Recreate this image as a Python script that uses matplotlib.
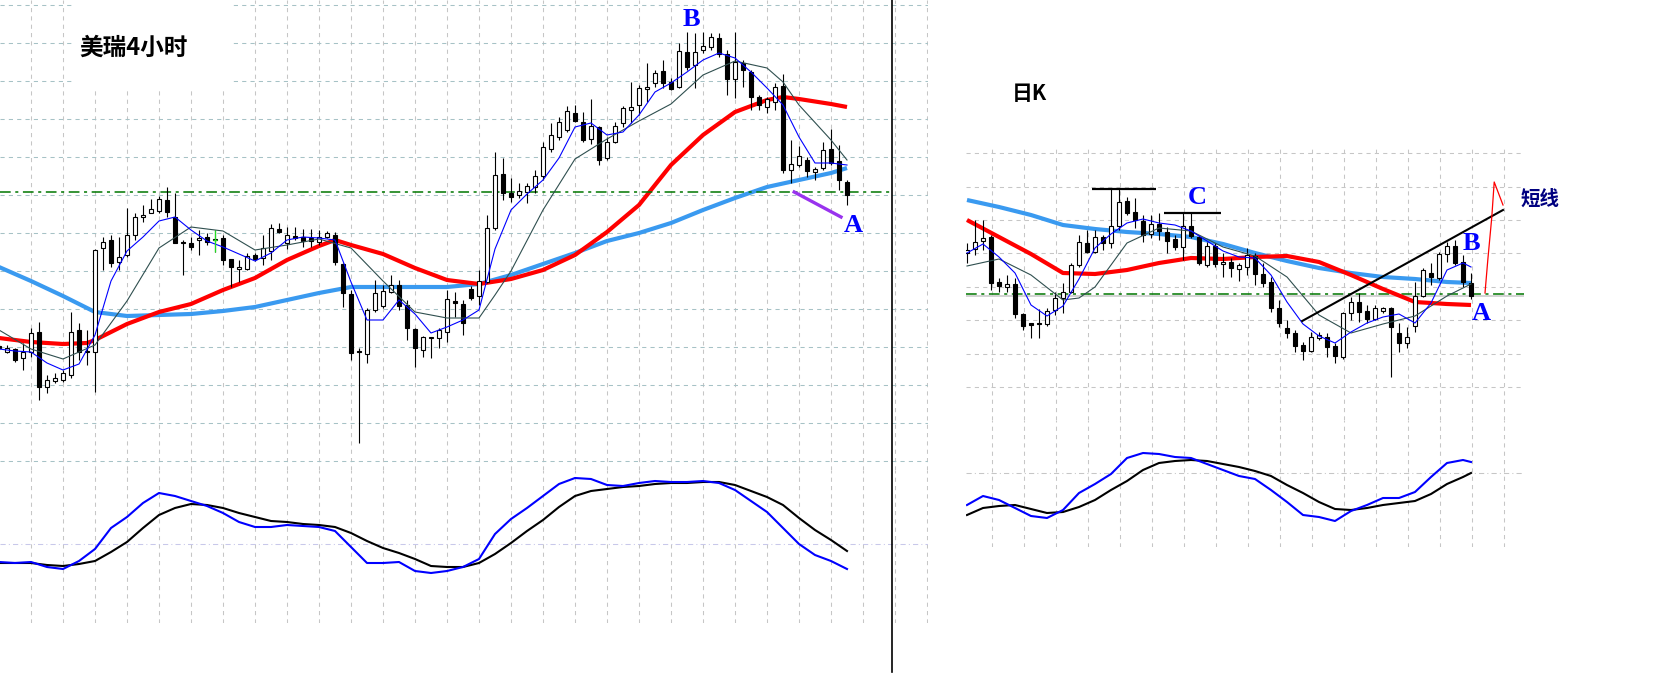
"""USD/CHF 4-hour and daily candlestick charts with moving averages and oscillator."""
import numpy as np
import matplotlib
matplotlib.use("Agg")
import matplotlib.pyplot as plt
from matplotlib.lines import Line2D
from matplotlib.patches import Rectangle

# ---- 4-hour chart (left) ----
left_open = [154, 148, 151, 142, 148, 168, 113, 119, 120, 125, 170, 149, 148, 252, 260, 238, 245, 265, 283, 287,
             289, 300, 283, 258, 257, 260, 263, 260, 262, 241, 231, 231, 245, 242, 249, 271, 257, 264, 263, 262,
             258, 263, 265, 236, 206, 149, 146, 190, 194, 208, 215, 195, 171, 150, 162, 162, 168, 199, 196, 211,
             204, 218, 272, 326, 307, 305, 308, 313, 324, 351, 363, 370, 387, 378, 361, 373, 342, 358, 377, 390,
             395, 411, 417, 429, 418, 413, 448, 435, 450, 453, 462, 446, 421, 437, 428, 403, 393, 398, 414, 330,
             335, 340, 328, 332, 351, 339, 318]
left_high = [156, 155, 152, 157, 172, 178, 125, 127, 130, 188, 177, 170, 251, 263, 265, 263, 292, 287, 295, 301,
             304, 313, 307, 260, 263, 270, 267, 270, 265, 241, 240, 247, 247, 265, 276, 277, 273, 273, 271, 271,
             270, 269, 268, 237, 210, 152, 192, 220, 215, 225, 220, 200, 172, 164, 162, 172, 210, 208, 200, 214,
             230, 285, 348, 342, 322, 317, 317, 330, 358, 377, 383, 394, 395, 388, 401, 374, 363, 378, 394, 418,
             415, 437, 430, 440, 422, 457, 468, 467, 468, 467, 467, 450, 468, 440, 430, 405, 403, 417, 426, 360,
             354, 343, 333, 358, 371, 355, 320]
left_low = [150, 147, 138, 130, 143, 100, 107, 117, 118, 122, 140, 135, 108, 230, 233, 230, 243, 260, 278, 287,
            287, 283, 257, 225, 250, 245, 255, 248, 235, 213, 218, 230, 239, 235, 240, 267, 251, 260, 253, 253,
            255, 262, 235, 193, 140, 57, 137, 188, 192, 207, 190, 160, 133, 143, 142, 152, 158, 183, 165, 200,
            195, 217, 270, 300, 298, 302, 297, 307, 320, 348, 360, 368, 378, 358, 356, 335, 340, 357, 373, 377,
            385, 398, 413, 412, 410, 412, 430, 412, 447, 450, 443, 405, 402, 413, 390, 390, 387, 390, 327, 317,
            333, 323, 320, 330, 335, 310, 295]
left_close = [152, 152, 140, 148, 167, 113, 120, 122, 127, 168, 148, 148, 250, 258, 237, 243, 265, 283, 285, 291,
              301, 288, 257, 257, 253, 262, 258, 260, 240, 233, 233, 244, 241, 252, 272, 268, 265, 262, 259, 259,
              263, 267, 238, 207, 147, 148, 190, 207, 209, 215, 194, 172, 152, 163, 162, 170, 201, 197, 177, 202,
              219, 272, 325, 307, 303, 309, 314, 324, 353, 365, 378, 389, 379, 360, 374, 340, 358, 374, 392, 393,
              412, 413, 427, 417, 411, 449, 433, 448, 454, 463, 446, 421, 438, 430, 403, 395, 401, 413, 330, 336,
              344, 329, 331, 350, 337, 320, 305]
left_green_bar = 27

left_fast_idx = list(range(0, 107, 2))
left_fast = [151, 149, 148, 137, 130, 136, 165, 219, 249, 263, 279, 283, 270, 259, 253, 246, 239, 247, 260, 263,
             262, 260, 218, 180, 180, 200, 186, 167, 173, 180, 190, 251, 290, 306, 320, 342, 373, 377, 365, 368,
             385, 408, 417, 428, 440, 447, 442, 428, 412, 395, 363, 337, 337, 335]
left_mid_idx = [0, 4, 8, 12, 16, 20, 24, 28, 32, 36, 40, 44, 48, 52, 56, 60, 62, 64, 68, 72, 76, 80, 84, 88, 92,
                96, 98, 100, 104, 106]
left_mid = [170, 151, 141, 155, 199, 252, 273, 269, 250, 255, 261, 252, 219, 188, 182, 182, 205, 229, 290, 341,
            361, 379, 396, 425, 439, 432, 418, 395, 360, 340]
left_red_idx = [0, 4, 8, 11, 12, 16, 20, 24, 28, 32, 36, 40, 42, 44, 48, 52, 56, 60, 64, 68, 72, 76, 80, 84, 88,
                92, 96, 98, 100, 104, 106]
left_red = [162, 158, 156, 157, 160, 176, 188, 196, 210, 222, 240, 254, 260, 255, 246, 232, 220, 216, 221, 230,
            245, 268, 295, 335, 365, 388, 400, 403, 401, 396, 393]
left_slow_idx = [0, 4, 8, 12, 16, 20, 24, 28, 32, 36, 40, 44, 48, 52, 56, 60, 64, 68, 72, 76, 80, 84, 88, 92, 96,
                 100, 104, 106]
left_slow = [233, 219, 204, 188, 184, 185, 186, 189, 193, 200, 207, 213, 213, 213, 213, 216, 225, 236, 247, 259,
             267, 277, 290, 302, 313, 320, 327, 332]

left_osc_idx = list(range(0, 107, 2))
left_osc_fast = [38, 37, 38, 33, 31, 39, 51, 72, 83, 97, 107, 104, 99, 94, 87, 78, 73, 73, 75, 74,
                 73, 69, 53, 37, 37, 38, 29, 27, 29, 33, 41, 66, 81, 92, 104, 116, 122, 121, 115, 114,
                 117, 119, 118, 118, 119, 117, 110, 99, 88, 72, 56, 45, 39, 31]
left_osc_slow = [37, 37, 37, 35, 34, 36, 39, 48, 58, 72, 85, 92, 96, 95, 92, 87, 83, 79, 78, 76,
                 75, 73, 67, 59, 52, 47, 41, 34, 33, 33, 37, 46, 57, 69, 80, 93, 104, 109, 111, 113,
                 114, 116, 117, 117, 118, 118, 115, 109, 103, 95, 82, 70, 60, 49]

left_level = 308
left_swing_x = [99.4, 105.25]
left_swing_y = [308, 283]

# ---- daily chart (right) ----
right_open = [247, 251, 259, 263, 218, 213, 216, 186, 177, 177, 176, 190, 202, 208, 235, 257, 248, 263, 257, 274,
              299, 288, 279, 266, 276, 268, 261, 253, 274, 263, 235, 254, 236, 238, 231, 233, 244, 226, 218, 192,
              172, 167, 155, 149, 162, 163, 154, 143, 187, 198, 189, 181, 189, 192, 167, 157, 174, 204, 227, 222,
              246, 254, 238, 217]
right_high = [257, 280, 280, 265, 222, 225, 222, 187, 177, 191, 192, 208, 217, 237, 265, 270, 270, 265, 311, 311,
              303, 302, 285, 285, 287, 273, 265, 287, 287, 265, 258, 257, 247, 242, 237, 252, 247, 237, 223, 200,
              180, 170, 158, 168, 168, 167, 157, 188, 203, 207, 195, 195, 193, 193, 177, 173, 218, 232, 237, 248,
              258, 260, 245, 227]
right_low = [237, 245, 250, 210, 208, 208, 182, 170, 162, 162, 174, 185, 187, 207, 233, 247, 247, 250, 252, 270,
             285, 272, 258, 262, 260, 247, 250, 240, 262, 235, 233, 233, 223, 223, 219, 225, 215, 213, 188, 173,
             162, 148, 140, 148, 160, 143, 137, 141, 180, 178, 177, 180, 187, 123, 148, 152, 168, 203, 215, 220,
             238, 235, 213, 201]
right_close = [250, 258, 262, 217, 214, 216, 186, 174, 175, 176, 189, 202, 208, 235, 258, 248, 263, 257, 274, 298,
               287, 280, 265, 276, 269, 259, 253, 274, 264, 237, 254, 236, 238, 232, 235, 245, 226, 217, 192, 177,
               167, 154, 149, 163, 165, 153, 144, 187, 198, 188, 181, 192, 192, 173, 157, 163, 204, 230, 223, 246,
               254, 237, 218, 204]

right_fast_idx = list(range(0, 63, 2)) + [63]
right_fast = [247, 256, 243, 227, 195, 184, 194, 221, 252, 266, 277, 281, 277, 275, 269, 259, 249, 243, 242, 225,
              198, 176, 164, 157, 168, 177, 183, 186, 177, 197, 230, 237, 233]
right_mid_idx = [0, 4, 8, 12, 14, 16, 20, 24, 28, 32, 36, 40, 44, 48, 52, 56, 60, 63]
right_mid = [234, 241, 225, 200, 202, 213, 257, 272, 269, 253, 244, 223, 185, 167, 176, 184, 204, 216]
right_red_idx = [0, 4, 8, 12, 16, 20, 24, 28, 32, 36, 40, 44, 48, 52, 56, 60, 63]
right_red = [280, 263, 246, 227, 226, 230, 237, 242, 241, 243, 244, 238, 225, 211, 198, 196, 195]
right_slow = [300, 293, 285, 275, 271, 268, 266, 263, 256, 247, 239, 232, 227, 223, 221, 218, 217]

right_osc_idx = list(range(0, 63, 2)) + [63]
right_osc_fast = [45, 54, 50, 42, 34, 32, 40, 57, 66, 76, 92, 97, 96, 93, 92, 86, 80, 74, 71, 60,
                  48, 35, 33, 29, 39, 45, 52, 52, 58, 73, 87, 90, 88]
right_osc_slow = [35, 42, 44, 45, 41, 37, 38, 43, 50, 60, 69, 80, 87, 89, 90, 89, 86, 83, 79, 74,
                  65, 57, 48, 41, 40, 42, 45, 47, 49, 56, 66, 73, 77]

right_level = 206
top_band_x, top_band_y = [15.6, 23.6], 311
c_band_x, c_band_y = [24.6, 31.75], 287
trend_x, trend_y = [41.9, 67.0], [179, 290]
zigzag_x = [64.75, 65.1, 65.6, 65.9, 67.0]
zigzag_y = [207, 240, 283, 318, 295]

W, H = 1657, 685
CJK = ["Noto Sans CJK SC", "DejaVu Sans"]


def box(x0, y0, x1, y1):
    return [x0 / W, 1 - y1 / H, (x1 - x0) / W, (y1 - y0) / H]


def setup(ax, xlim, ylim, xticks, yticks, hcolor, hstyle):
    ax.set_xlim(*xlim)
    ax.set_ylim(*ylim)
    ax.set_xticks(xticks)
    ax.set_yticks(yticks)
    ax.tick_params(length=0, labelbottom=False, labelleft=False)
    for s in ax.spines.values():
        s.set_visible(False)
    ax.patch.set_alpha(0)
    ax.set_axisbelow(True)
    ax.grid(axis="x", color="#c6c6c6", linestyle=(0, (4, 4)), linewidth=0.75)
    ax.grid(axis="y", color=hcolor, linestyle=hstyle, linewidth=0.75)


def candles(ax, o, h, l, c, width=0.6):
    o, h, l, c = (np.asarray(v, float) for v in (o, h, l, c))
    x = np.arange(len(o))
    up = c >= o
    bottom = np.minimum(o, c)
    height = np.maximum(np.abs(c - o), 1.2)
    ax.vlines(x, l, h, color="black", lw=0.8, zorder=3)
    ax.bar(x[up], height[up], width, bottom[up], color="white", edgecolor="black", lw=0.8, zorder=4)
    ax.bar(x[~up], height[~up], width, bottom[~up], color="black", edgecolor="black", lw=0.8, zorder=4)


def averages(ax, fast, mid, red, slow):
    ax.plot(*slow, color="#3a9af0", lw=3.0, zorder=2, solid_capstyle="butt")
    ax.plot(*red, color="#ff0000", lw=3.0, zorder=2, solid_capstyle="butt")
    ax.plot(*mid, color="#2f4f4f", lw=0.8, zorder=5)
    ax.plot(*fast, color="#0000ff", lw=0.8, zorder=5)


fig = plt.figure(figsize=(W / 100, H / 100), dpi=100, facecolor="white")
letter = dict(color="#0000ff", fontsize=19, fontweight="bold", family="Liberation Serif",
              ha="center", va="center")

# left price window
ax1 = fig.add_axes(box(0, 0, 928, 470))
setup(ax1, (0.125, 116.125), (30, 500), np.arange(4, 117, 4), np.arange(39, 500, 38),
      "#a6c2c6", (0, (4, 4)))
candles(ax1, left_open, left_high, left_low, left_close)
g = left_green_bar
ax1.vlines(g, left_low[g], left_high[g], color="#22dd22", lw=0.9, zorder=6)
ax1.hlines(left_close[g], g - 0.3, g + 0.3, color="#22dd22", lw=0.9, zorder=6)
averages(ax1, (left_fast_idx, left_fast), (left_mid_idx, left_mid),
         (left_red_idx, left_red), (left_slow_idx, left_slow))
ax1.hlines(left_level, 0.125, 111.4, color="#007700", lw=1.1, linestyle=(0, (7, 3, 2, 3)), zorder=2)
ax1.plot(left_swing_x, left_swing_y, color="#9933ee", lw=2.4, zorder=6)
ax1.add_patch(Rectangle((9.5, 410), 19.75, 95, facecolor="white", edgecolor="none", zorder=1))
ax1.text(86.6, 480, "B", **letter)
ax1.text(106.75, 274, "A", **letter)

# left oscillator
ax2 = fig.add_axes(box(0, 470, 928, 623))
setup(ax2, (0.125, 116.125), (-23, 130), np.arange(4, 117, 4), [56],
      "#c8c8ea", (0, (5, 3, 1, 3)))
ax2.plot(left_osc_idx, left_osc_slow, color="black", lw=1.5)
ax2.plot(left_osc_idx, left_osc_fast, color="#0000ff", lw=1.5)

# right price window
ax3 = fig.add_axes(box(966, 145, 1524, 420))
setup(ax3, (-0.125, 69.625), (80, 355), np.arange(3.125, 68, 4), np.arange(113, 350, 33.4),
      "#c6c6c6", (0, (4, 4)))
ax3.axhline(right_level - 2, color="#cccccc", lw=1.2, zorder=1)
ax3.axhline(right_level, color="#007700", lw=1.1, linestyle=(0, (7, 3, 2, 3)), zorder=2)
candles(ax3, right_open, right_high, right_low, right_close)
averages(ax3, (right_fast_idx, right_fast), (right_mid_idx, right_mid),
         (right_red_idx, right_red), (right_red_idx, right_slow))
ax3.hlines([top_band_y, c_band_y], [top_band_x[0], c_band_x[0]], [top_band_x[1], c_band_x[1]],
           color="black", lw=1.6, zorder=6)
ax3.plot(trend_x, trend_y, color="black", lw=1.5, zorder=6)
ax3.plot(zigzag_x, zigzag_y, color="#ff0000", lw=0.9, zorder=6, clip_on=False)
ax3.text(28.75, 303, "C", **letter)
ax3.text(63.1, 256, "B", **letter)
ax3.text(64.25, 186, "A", **letter)
ax3.text(71.6, 301, "短线", color="#000080", fontsize=14, fontweight="bold",
         ha="center", va="center", family=CJK)

# right oscillator
ax4 = fig.add_axes(box(966, 420, 1524, 547))
setup(ax4, (-0.125, 69.625), (3, 130), np.arange(3.125, 68, 4), [77],
      "#c6c6c6", (0, (5, 3, 1, 3)))
ax4.plot(right_osc_idx, right_osc_slow, color="black", lw=1.5)
ax4.plot(right_osc_idx, right_osc_fast, color="#0000ff", lw=1.5)

# titles and divider
fig.text(134 / W, 1 - 48 / H, "美瑞4小时", fontsize=17, fontweight="bold",
         ha="center", va="center", family=CJK)
fig.text(1029 / W, 1 - 93 / H, "日K", fontsize=15, fontweight="bold",
         ha="center", va="center", family=CJK)
fig.add_artist(Line2D([892 / W, 892 / W], [1, 1 - 672 / H], color="black", lw=1.2))

fig.savefig("out.png", dpi=100, facecolor="white")
